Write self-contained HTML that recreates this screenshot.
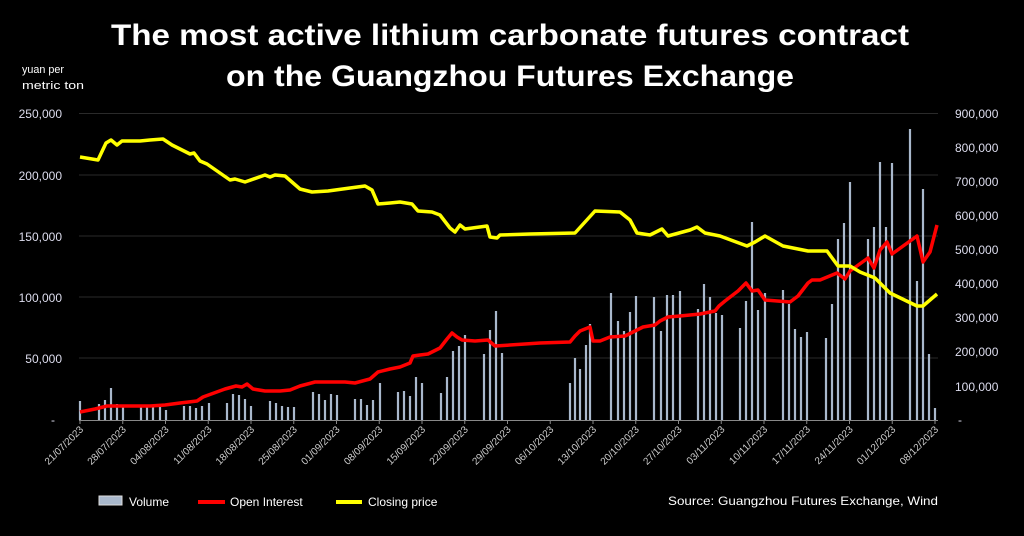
<!DOCTYPE html>
<html><head><meta charset="utf-8"><style>
html,body{margin:0;padding:0;background:#000;}
svg{display:block;}
text{font-family:"Liberation Sans",sans-serif;}
</style></head><body>
<svg width="1024" height="536" viewBox="0 0 1024 536" xmlns="http://www.w3.org/2000/svg">
<rect width="1024" height="536" fill="#000"/>
<text x="510" y="45" fill="#fff" font-size="30" font-weight="bold" text-anchor="middle" textLength="798" lengthAdjust="spacingAndGlyphs">The most active lithium carbonate futures contract</text>
<text x="510" y="86" fill="#fff" font-size="30" font-weight="bold" text-anchor="middle" textLength="568" lengthAdjust="spacingAndGlyphs">on the Guangzhou Futures Exchange</text>
<text x="22" y="73" fill="#fff" font-size="11" textLength="42" lengthAdjust="spacingAndGlyphs">yuan per</text>
<text x="22" y="89" fill="#fff" font-size="11" textLength="62" lengthAdjust="spacingAndGlyphs">metric ton</text>
<g stroke="#2a2a2a" stroke-width="1">
<line x1="79" y1="113.5" x2="938" y2="113.5"/><line x1="79" y1="175" x2="938" y2="175"/><line x1="79" y1="236" x2="938" y2="236"/><line x1="79" y1="297" x2="938" y2="297"/><line x1="79" y1="358" x2="938" y2="358"/>
</g>
<g fill="#dde" font-size="12" text-anchor="end">
<text x="62" y="118">250,000</text><text x="62" y="180">200,000</text><text x="62" y="241">150,000</text><text x="62" y="302">100,000</text><text x="62" y="363">50,000</text><text x="55" y="424">-</text>
</g>
<g fill="#dde" font-size="12">
<text x="955" y="118">900,000</text><text x="955" y="152">800,000</text><text x="955" y="186">700,000</text><text x="955" y="220">600,000</text><text x="955" y="254">500,000</text><text x="955" y="288">400,000</text><text x="955" y="322">300,000</text><text x="955" y="356">200,000</text><text x="955" y="391">100,000</text><text x="958" y="424">-</text>
</g>
<g stroke="#a9b8cc" stroke-width="2.2" id="bars"></g>
<line x1="79" y1="420.5" x2="938" y2="420.5" stroke="#888" stroke-width="1"/>
<g id="ticks" stroke="#888" stroke-width="1"></g>
<g id="xl" fill="#ccc" font-size="10"></g>
<polyline fill="none" stroke="#ff0000" stroke-width="3.5" stroke-linejoin="round" points="80,412 95,409 107,406 120,406 150,406 165,405 180,403 197,401 203,397 225,389 236,386 242,387 247,384 253,389 265,391 280,391 290,390 300,386 315,382 345,382 355,383 370,379 378,372 390,369 400,367 410,363 413,356 420,355 428,354 440,348 447,339 452,333 457,337 462,340 475,341 488,340 495,346 540,343 570,342 575,336 580,331 590,327 593,341 600,341 610,337 625,336 635,331 643,327 655,325 660,321 668,317 680,316 700,314 715,311 719,306 725,301 738,291 746,283 752,291 758,290 765,300 790,302 798,296 808,283 812,280 820,280 837,273 845,279 850,271 868,258 874,268 880,250 887,242 892,254 917,236 923,262 930,252 937,225"/>
<polyline fill="none" stroke="#ffff00" stroke-width="3.5" stroke-linejoin="round" points="80,157 98,160 106,143 111,140 117,145 122,141 140,141 150,140 163,139 172,145 190,154 194,153 200,161 207,164 230,180 235,179 245,182 265,175 270,177 275,175 285,176 300,189 312,192 328,191 350,188 365,186 372,190 378,204 390,203 400,202 412,204 418,211 432,212 440,215 450,228 455,232 460,225 465,229 487,226 490,237 497,238 500,235 530,234 575,233 585,222 595,211 620,212 630,220 637,233 650,235 662,229 668,236 690,230 697,227 705,233 720,236 747,246 755,242 765,236 783,246 808,251 827,251 838,266 850,266 860,272 875,278 890,293 917,306 923,306 937,294"/>
<rect x="99" y="496" width="23" height="9" fill="#a9b8cc" stroke="#ddd" stroke-width="1"/>
<text x="129" y="506" fill="#fff" font-size="12">Volume</text>
<line x1="198" y1="502" x2="225" y2="502" stroke="#ff0000" stroke-width="4"/>
<text x="230" y="506" fill="#fff" font-size="12">Open Interest</text>
<line x1="336" y1="502" x2="362" y2="502" stroke="#ffff00" stroke-width="4"/>
<text x="368" y="506" fill="#fff" font-size="12">Closing price</text>
<text x="938" y="505" fill="#fff" font-size="12" text-anchor="end" textLength="270" lengthAdjust="spacingAndGlyphs">Source: Guangzhou Futures Exchange, Wind</text>
<script>
var ns="http://www.w3.org/2000/svg";
var b=[[80,401],[99,404],[105,400],[111,388],[117,404],[123,407],[141,405],[147,407],[153,407],[160,407],[166,410],[184,406],[190,406],[196,408],[202,406],[209,403],[227,403],[233,394],[239,395],[245,399],[251,406],[270,401],[276,403],[282,406],[288,407],[294,407],[313,392],[319,394],[325,400],[331,394],[337,395],[355,399],[361,399],[367,405],[373,400],[380,383],[398,392],[404,391],[410,396],[416,377],[422,383],[441,393],[447,377],[453,351],[459,346],[465,335],[484,354],[490,330],[496,311],[502,353],[570,383],[575,358],[580,369],[586,345],[590,324],[611,293],[618,321],[624,331],[630,312],[636,296],[654,297],[661,331],[667,295],[673,295],[680,291],[698,309],[704,284],[710,297],[716,313],[722,315],[740,328],[746,301],[752,222],[758,310],[765,293],[783,290],[789,304],[795,329],[801,337],[807,332],[826,338],[832,304],[838,239],[844,223],[850,182],[868,239],[874,227],[880,162],[886,227],[892,163],[910,129],[917,281],[923,189],[929,354],[935,408]];
var g=document.getElementById("bars");
b.forEach(function(p){var l=document.createElementNS(ns,"line");l.setAttribute("x1",p[0]);l.setAttribute("x2",p[0]);l.setAttribute("y1",p[1]);l.setAttribute("y2",420);g.appendChild(l);});
var d=["21/07","28/07","04/08","11/08","18/08","25/08","01/09","08/09","15/09","22/09","29/09","06/10","13/10","20/10","27/10","03/11","10/11","17/11","24/11","01/12","08/12"];
var t=document.getElementById("ticks"),xl=document.getElementById("xl");
d.forEach(function(s,i){var x=80+i*42.75;var l=document.createElementNS(ns,"line");l.setAttribute("x1",x);l.setAttribute("x2",x);l.setAttribute("y1",420);l.setAttribute("y2",424);t.appendChild(l);
var tx=document.createElementNS(ns,"text");tx.setAttribute("x",0);tx.setAttribute("y",0);tx.setAttribute("text-anchor","end");tx.setAttribute("transform","translate("+(x+4)+",430) rotate(-45)");tx.textContent=s+"/2023";xl.appendChild(tx);});
</script>
</svg>
</body></html>
